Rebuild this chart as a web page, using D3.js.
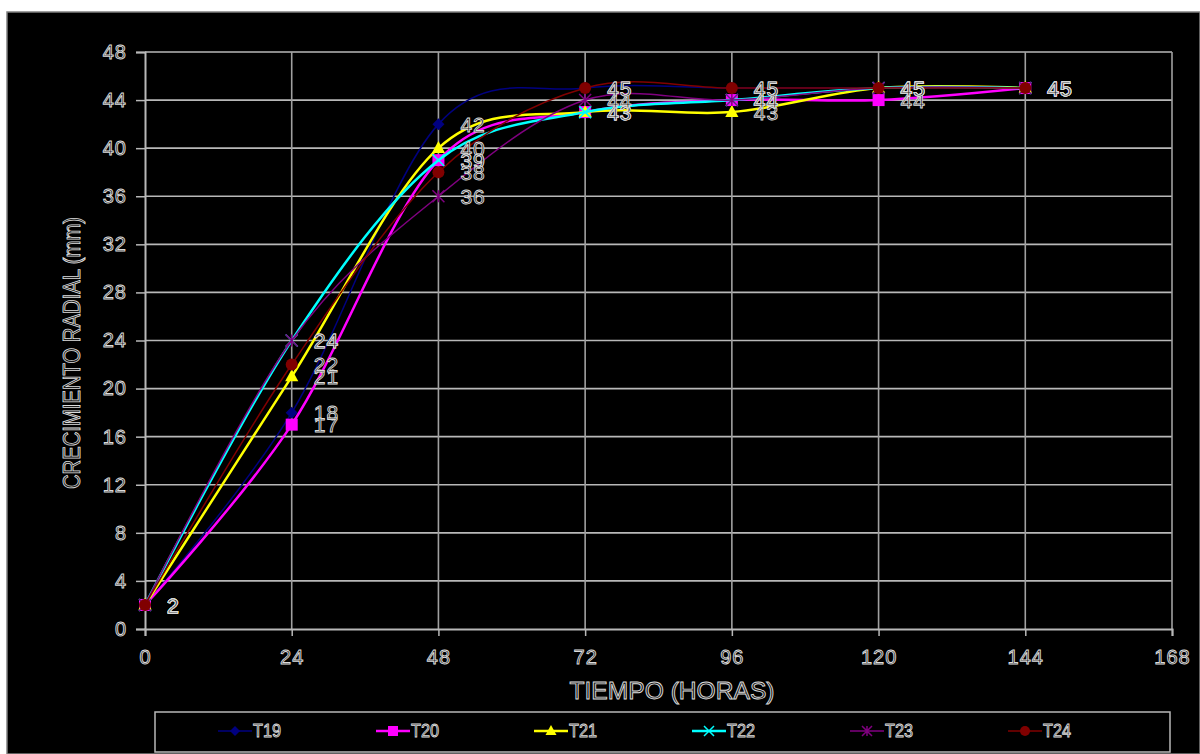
<!DOCTYPE html>
<html>
<head>
<meta charset="utf-8">
<script src="https://cdn.jsdelivr.net/npm/d3@7"></script>
<style>
  html, body { margin: 0; padding: 0; background: #fff; }
  svg { display: block; }
  .hollow { fill: #151515; stroke: #dcdcdc; stroke-width: 0.9px; }
</style>
</head>
<body>
<div id="chart"></div>
<script>
"use strict";

// === DATA ===
const hours = [0, 24, 48, 72, 96, 120, 144];
const seriesNames = ["T19", "T20", "T21", "T22", "T23", "T24"];
const t19 = [2, 18, 42, 45, 45, 45, 45];
const t20 = [2, 17, 39, 43, 44, 44, 45];
const t21 = [2, 21, 40, 43, 43, 45, 45];
const t22 = [2, 24, 39, 43, 44, 45, 45];
const t23 = [2, 24, 36, 44, 44, 45, 45];
const t24 = [2, 22, 38, 45, 45, 45, 45];
const xTicks = [0, 24, 48, 72, 96, 120, 144, 168];
const yTicks = [0, 4, 8, 12, 16, 20, 24, 28, 32, 36, 40, 44, 48];

const seriesValues = [t19, t20, t21, t22, t23, t24];
const colors = ["#000080", "#ff00ff", "#ffff00", "#00ffff", "#800080", "#800000"];
const widths = [1.5, 2.5, 2.5, 2.5, 1.5, 1.5];
const markers = ["diamond", "square", "triangle", "x", "star", "circle"];

// === SVG SETUP ===
const W = 1200, H = 754;
const plot = { left: 145, right: 1172, top: 52, bottom: 629 };
const font = "Liberation Sans, Arial, sans-serif";

const svg = d3.select("#chart").append("svg")
  .attr("width", W).attr("height", H);

svg.append("rect")
  .attr("x", 7).attr("y", 12)
  .attr("width", W - 7).attr("height", H - 12)
  .attr("fill", "#000")
  .attr("stroke", "#808080").attr("stroke-width", 1.5);

// === SCALES ===
const x = d3.scaleLinear().domain([0, 168]).range([plot.left, plot.right]);
const y = d3.scaleLinear().domain([0, 48]).range([plot.bottom, plot.top]);

// === GRID ===
svg.append("g").selectAll("line")
  .data(yTicks.slice(1))
  .join("line")
  .attr("x1", plot.left).attr("x2", plot.right)
  .attr("y1", d => y(d)).attr("y2", d => y(d))
  .attr("stroke", "#b8b8b8").attr("stroke-width", 1.6);

svg.append("g").selectAll("line")
  .data(xTicks.slice(1))
  .join("line")
  .attr("x1", d => x(d)).attr("x2", d => x(d))
  .attr("y1", plot.top).attr("y2", plot.bottom)
  .attr("stroke", "#a0a0a0").attr("stroke-width", 1.6);

// === AXES ===
const yAxis = d3.axisLeft(y).tickValues(yTicks).tickSize(9).tickPadding(14);
const xAxis = d3.axisBottom(x).tickValues(xTicks).tickSize(7).tickPadding(14);

const gy = svg.append("g").attr("transform", `translate(${plot.left},0)`).call(yAxis);
const gx = svg.append("g").attr("transform", `translate(0,${plot.bottom})`).call(xAxis);

[gx, gy].forEach(g => {
  g.select(".domain").attr("stroke", "#b8b8b8").attr("stroke-width", 2);
  g.selectAll(".tick line").attr("stroke", "#b8b8b8").attr("stroke-width", 1.5);
  g.selectAll(".tick text")
    .attr("class", "hollow")
    .attr("font-family", font)
    .attr("font-size", 20)
    .attr("letter-spacing", 1);
});
gy.selectAll(".tick text").attr("dx", 5);

// === AXIS TITLES ===
svg.append("text")
  .attr("class", "hollow")
  .attr("x", 672).attr("y", 699)
  .attr("text-anchor", "middle")
  .attr("font-family", font)
  .attr("font-size", 24)
  .attr("textLength", 205).attr("lengthAdjust", "spacingAndGlyphs")
  .text("TIEMPO (HORAS)");

svg.append("text")
  .attr("class", "hollow")
  .attr("transform", "translate(80,353) rotate(-90)")
  .attr("text-anchor", "middle")
  .attr("font-family", font)
  .attr("font-size", 24)
  .attr("textLength", 272).attr("lengthAdjust", "spacingAndGlyphs")
  .text("CRECIMIENTO RADIAL (mm)");

// === MARKERS ===
function drawMarker(g, type, color, size) {
  const s = size;
  if (type === "diamond") {
    g.append("path").attr("d", `M0,${-s}L${s},0L0,${s}L${-s},0Z`).attr("fill", color);
  } else if (type === "square") {
    g.append("rect").attr("x", -s).attr("y", -s).attr("width", 2 * s).attr("height", 2 * s).attr("fill", color);
  } else if (type === "triangle") {
    g.append("path").attr("d", `M0,${-s * 1.2}L${s * 1.1},${s * 0.8}L${-s * 1.1},${s * 0.8}Z`).attr("fill", color);
  } else if (type === "x") {
    g.append("path").attr("d", `M${-s},${-s}L${s},${s}M${-s},${s}L${s},${-s}`)
      .attr("stroke", color).attr("stroke-width", 1.5);
  } else if (type === "star") {
    g.append("path").attr("d", `M${-s},${-s}L${s},${s}M${-s},${s}L${s},${-s}M0,${-s}L0,${s}`)
      .attr("stroke", color).attr("stroke-width", 1.5);
  } else {
    g.append("circle").attr("r", s).attr("fill", color);
  }
}

// === SERIES ===
const line = d3.line()
  .x((d, i) => x(hours[i]))
  .y(d => y(d))
  .curve(d3.curveCatmullRom.alpha(0));

seriesValues.forEach((vals, k) => {
  svg.append("path")
    .datum(vals)
    .attr("d", line)
    .attr("fill", "none")
    .attr("stroke", colors[k])
    .attr("stroke-width", widths[k]);

  vals.forEach((v, i) => {
    const g = svg.append("g").attr("transform", `translate(${x(hours[i])},${y(v)})`);
    drawMarker(g, markers[k], colors[k], markers[k] === "circle" ? 6 : 6);
  });
});

// === DATA LABELS ===
seriesValues.forEach(vals => {
  vals.forEach((v, i) => {
    svg.append("text")
      .attr("class", "hollow")
      .attr("x", x(hours[i]) + 22)
      .attr("y", y(v))
      .attr("dy", "0.36em")
      .attr("font-family", font)
      .attr("font-size", 21)
      .attr("letter-spacing", 1)
      .text(v);
  });
});

// === LEGEND ===
svg.append("rect")
  .attr("x", 155).attr("y", 712)
  .attr("width", 1015).attr("height", 40)
  .attr("fill", "#000")
  .attr("stroke", "#b8b8b8").attr("stroke-width", 1.5);

seriesNames.forEach((name, k) => {
  const lx = 218 + k * 158;
  const ly = 731;
  svg.append("line")
    .attr("x1", lx).attr("x2", lx + 34)
    .attr("y1", ly).attr("y2", ly)
    .attr("stroke", colors[k]).attr("stroke-width", widths[k]);
  const g = svg.append("g").attr("transform", `translate(${lx + 17},${ly})`);
  drawMarker(g, markers[k], colors[k], 5);
  svg.append("text")
    .attr("class", "hollow")
    .attr("x", lx + 35).attr("y", ly)
    .attr("dy", "0.36em")
    .attr("font-family", font)
    .attr("font-size", 18)
    .attr("textLength", 28).attr("lengthAdjust", "spacingAndGlyphs")
    .text(name);
});
</script>
</body>
</html>
